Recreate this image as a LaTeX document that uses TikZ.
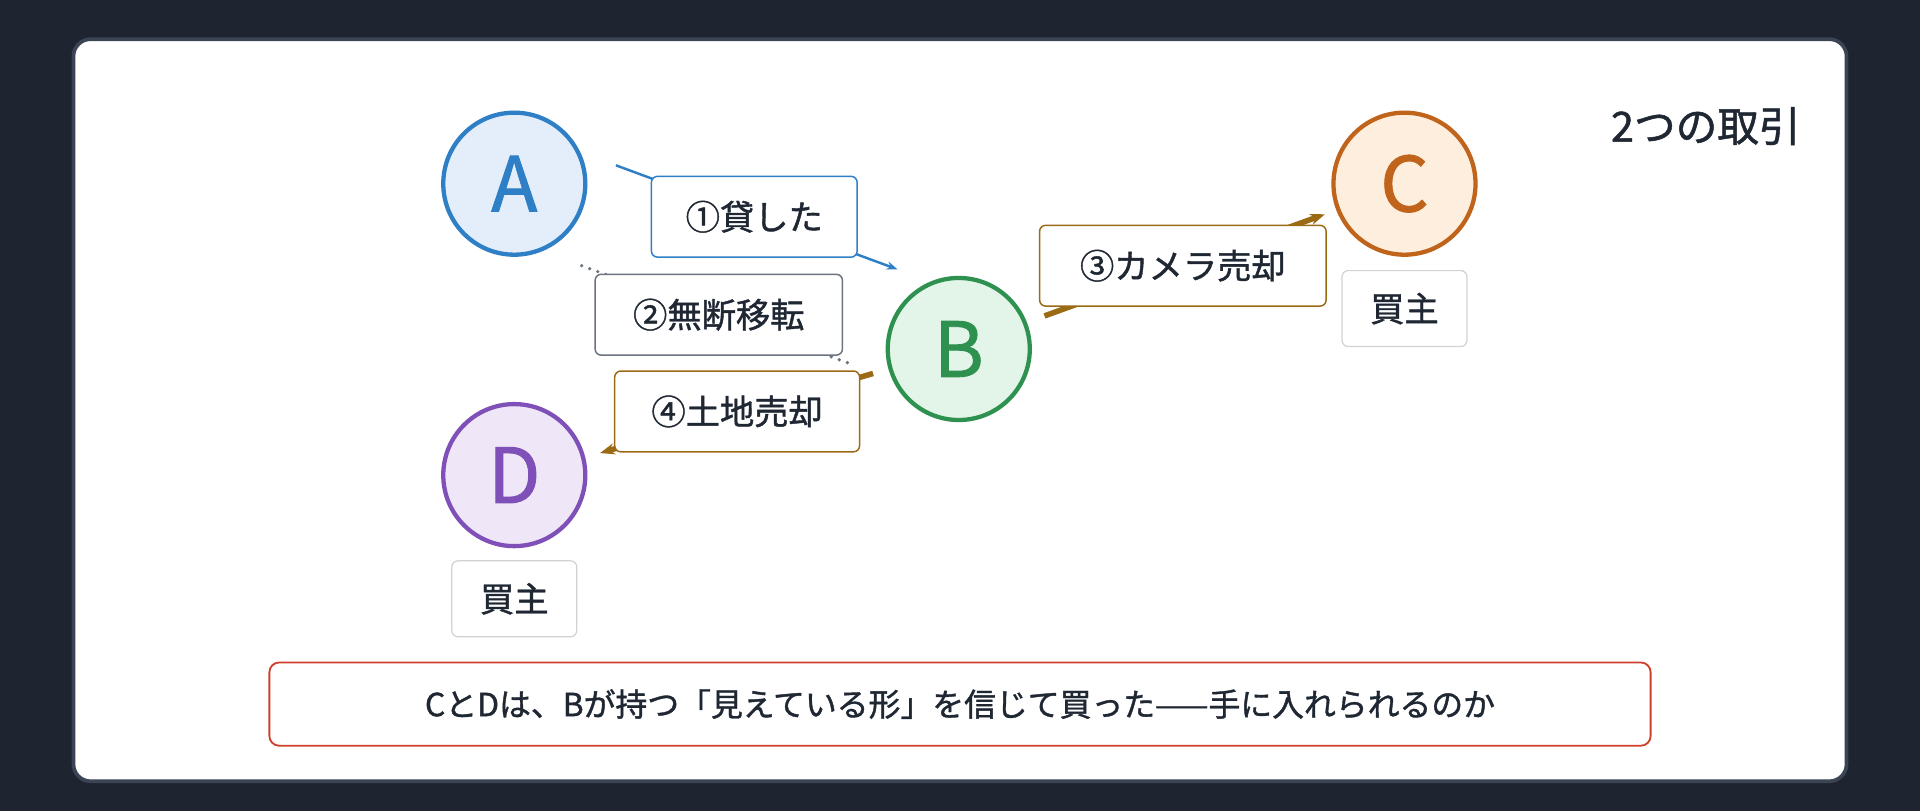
\documentclass[tikz,border=0pt]{standalone}
\usepackage{fontspec}
\setmainfont{Noto Sans CJK JP}
\newfontfamily\medfont[FakeBold=1.2]{Noto Sans CJK JP}
\usetikzlibrary{arrows.meta}
\definecolor{bg}{HTML}{1E2530}
\definecolor{cardb}{HTML}{3A4454}
\definecolor{ink}{HTML}{1F2733}
\definecolor{cA}{HTML}{2F7FC6}\definecolor{fA}{HTML}{E3EEFA}
\definecolor{cB}{HTML}{2E9150}\definecolor{fB}{HTML}{E3F5E8}
\definecolor{cC}{HTML}{C0641C}\definecolor{fC}{HTML}{FDEEDE}
\definecolor{cD}{HTML}{7E50B8}\definecolor{fD}{HTML}{EFE6F8}
\definecolor{brn}{HTML}{9A6A14}
\definecolor{gry}{HTML}{6B7280}
\definecolor{red}{HTML}{D0402C}
\begin{document}
\begin{tikzpicture}[x=1pt,y=-1pt,
 person/.style={circle,minimum size=116pt,line width=3.5pt,inner sep=0pt,font=\medfont\fontsize{62}{62}\selectfont},
 lbl/.style={draw,fill=white,rounded corners=5pt,line width=1.2pt,minimum height=66pt,inner xsep=6pt,font=\medfont\fontsize{28}{28}\selectfont,text=ink},
 role/.style={draw=gray!35,fill=white,rounded corners=5pt,line width=1pt,minimum width=102pt,minimum height=62pt,font=\medfont\fontsize{28}{28}\selectfont,text=ink}]
\fill[bg] (0,0) rectangle (1568,662);
\useasboundingbox (0,0) rectangle (1568,662);
\draw[fill=white,draw=cardb,line width=3pt,rounded corners=14pt] (60,32) rectangle (1508,638);
\node[anchor=east,font=\medfont\fontsize{34}{34}\selectfont,text=ink] (title) at (1474,103) {2つの取引};
\node[person,draw=cA,fill=fA,text=cA] (A) at (420,150) {A};
\node[person,draw=cB,fill=fB,text=cB] (B) at (783,285) {B};
\node[person,draw=cC,fill=fC,text=cC] (C) at (1147,150) {C};
\node[person,draw=cD,fill=fD,text=cD] (D) at (420,388) {D};
\node[role] (rc) at (1147,252) {買主};
\node[role] (rd) at (420,489) {買主};
\coordinate (a1) at (503,135); \coordinate (b1) at (733,220);
\coordinate (a2) at (475,217); \coordinate (b2) at (697,298);
\coordinate (b3) at (853,258); \coordinate (c3) at (1082,175);
\coordinate (b4) at (713,305); \coordinate (d4) at (490,370);
\draw[cA,line width=2pt,-{Stealth[length=9pt]}] (a1) -- (b1);
\draw[gry,line width=3pt,dash pattern=on 0pt off 7pt,line cap=round] (a2) -- (b2);
\draw[brn,line width=4.5pt,-{Stealth[length=12pt]}] (b3) -- (c3);
\draw[brn,line width=4.5pt,-{Stealth[length=12pt]}] (b4) -- (d4);
\node[lbl,draw=cA,minimum width=168pt] (l1) at (616,177) {①貸した};
\node[lbl,draw=gry,minimum width=202pt] (l2) at (587,257) {②無断移転};
\node[lbl,draw=brn,minimum width=234pt] (l3) at (966,217) {③カメラ売却};
\node[lbl,draw=brn,minimum width=200pt] (l4) at (602,336) {④土地売却};
\node[draw=red,fill=white,line width=1.5pt,rounded corners=8pt,minimum width=1128pt,minimum height=68pt,font=\medfont\fontsize{26}{26}\selectfont,text=ink] (q) at (784,575) {CとDは、Bが持つ「見えている形」を信じて買った——手に入れられるのか};
\end{tikzpicture}
\end{document}
